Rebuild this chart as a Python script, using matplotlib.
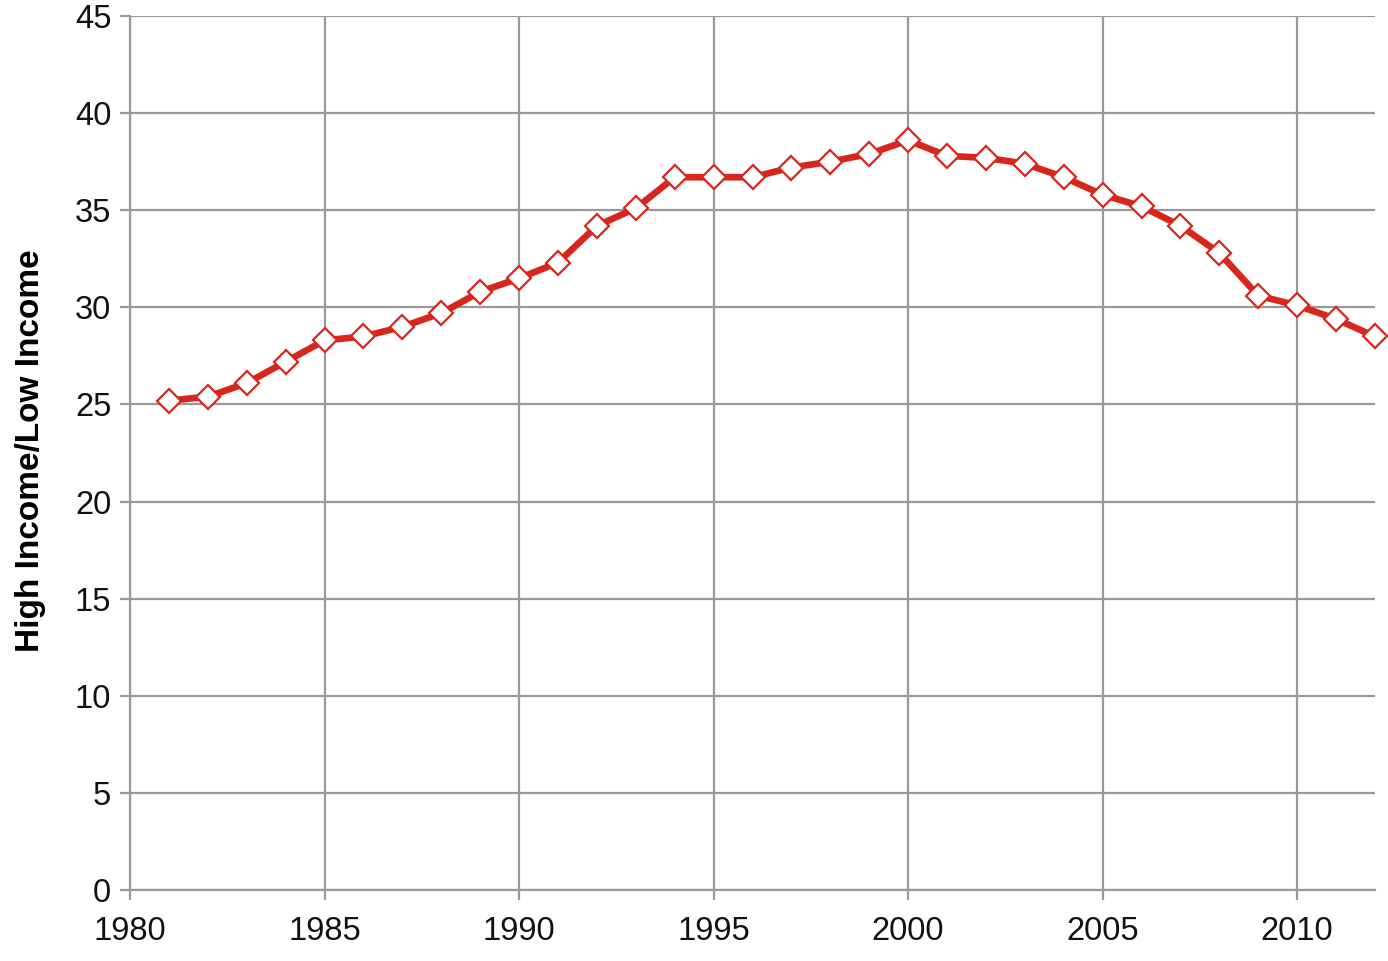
import matplotlib.pyplot as plt

years = list(range(1981, 2013))
ratio = [25.2, 25.4, 26.1, 27.2, 28.3, 28.5, 29.0, 29.7, 30.8, 31.5,
         32.3, 34.2, 35.1, 36.7, 36.7, 36.7, 37.2, 37.5, 37.9, 38.6,
         37.8, 37.7, 37.4, 36.7, 35.8, 35.2, 34.2, 32.8, 30.6, 30.1,
         29.4, 28.5]

x_ticks = [1980, 1985, 1990, 1995, 2000, 2005, 2010]
y_ticks = list(range(0, 50, 5))

plt.rcParams['font.family'] = ['Liberation Sans', 'DejaVu Sans']

fig = plt.figure(figsize=(13.88, 9.61), dpi=100)
ax = fig.add_axes([0.0937, 0.0739, 0.8969, 0.9094])

grid_color = '#999999'
ax.plot(years, ratio, color='#d9261c', lw=4.8, marker='D', markersize=12.5,
        markerfacecolor='white', markeredgecolor='#d9261c',
        markeredgewidth=1.6, zorder=3, clip_on=False)

ax.set_xlim(1980, 2012)
ax.set_ylim(0, 45)
ax.set_xticks(x_ticks)
ax.set_yticks(y_ticks)
ax.grid(True, color=grid_color, lw=1.6)
ax.set_axisbelow(True)

for side in ['top', 'right']:
    ax.spines[side].set_visible(False)
for side in ['left', 'bottom']:
    ax.spines[side].set_color(grid_color)
    ax.spines[side].set_linewidth(1.6)

ax.tick_params(axis='both', colors=grid_color, length=7.5, width=1.6,
               labelsize=23.5, labelcolor='#111111', pad=6)
ax.tick_params(axis='x', pad=11)
ax.set_ylabel('High Income/Low Income', fontsize=24, fontweight='bold',
              va='center')
ax.yaxis.set_label_coords(-0.080, 0.503)

fig.savefig('out.png', dpi=100)
